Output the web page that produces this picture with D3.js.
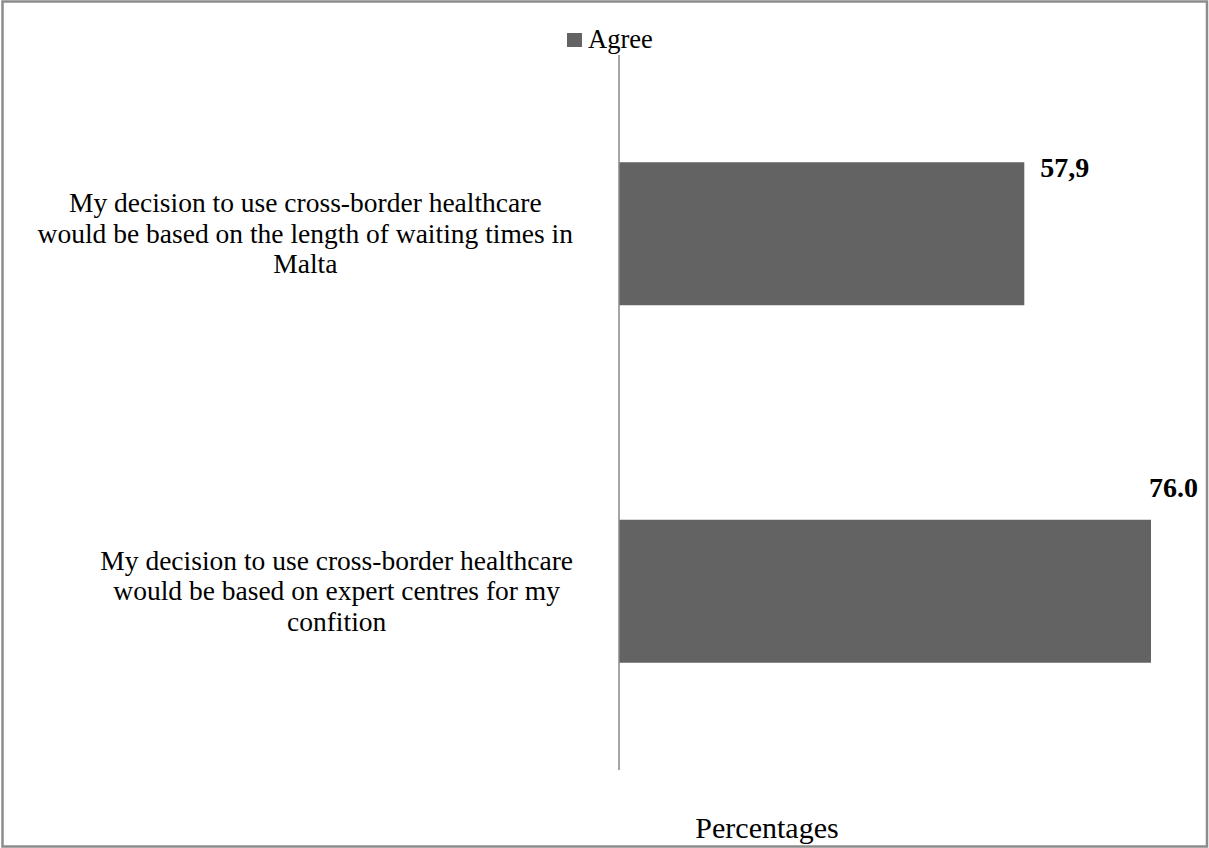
<!DOCTYPE html>
<html>
<head>
<meta charset="utf-8">
<script src="https://cdn.jsdelivr.net/npm/d3@7"></script>
<style>
  html, body { margin: 0; padding: 0; background: #fff; }
  svg { display: block; }
  text { font-family: "Liberation Serif", "DejaVu Serif", serif; fill: #000; }
</style>
</head>
<body>
<svg id="chart" width="1209" height="848"></svg>
<script>
// Survey statements (each wrapped into lines as drawn)
const categories = [
  ["My decision to use cross-border healthcare", "would be based on the length of waiting times in", "Malta"],
  ["My decision to use cross-border healthcare", "would be based on expert centres for my", "confition"]
];
const agreeValues = [57.9, 76.0];
const valueLabels = ["57,9", "76.0"];
const seriesName = "Agree";
const axisTitle = "Percentages";

const W = 1209, H = 848;
const svg = d3.select("#chart");
const barColor = "#636363";
const frameColor = "#8c8c8c";

// outer frame
svg.append("rect")
  .attr("x", 2.5).attr("y", 1.5)
  .attr("width", W - 4.5).attr("height", H - 3)
  .attr("fill", "none").attr("stroke", frameColor).attr("stroke-width", 2.5);

const plot = { left: 619, top: 55, bottom: 770 };

const x = d3.scaleLinear().domain([0, 80]).range([plot.left, plot.left + 560]);
const y = d3.scaleBand()
  .domain(d3.range(categories.length))
  .range([plot.top, plot.bottom])
  .paddingInner(0.6).paddingOuter(0.3);

// bars
svg.selectAll("rect.bar")
  .data(agreeValues)
  .join("rect")
  .attr("class", "bar")
  .attr("x", x(0))
  .attr("y", (d, i) => y(i))
  .attr("width", d => x(d) - x(0))
  .attr("height", y.bandwidth())
  .attr("fill", barColor);

// vertical category axis line
svg.append("line")
  .attr("x1", x(0)).attr("x2", x(0))
  .attr("y1", plot.top).attr("y2", plot.bottom)
  .attr("stroke", "#888").attr("stroke-width", 1.5);

// category labels, centred text block right-aligned to the gutter
const labelFont = 27.5;
const lineGap = 30.5;
const labelRight = 573;
categories.forEach((lines, i) => {
  const g = svg.append("g");
  const cy = y(i) + y.bandwidth() / 2;
  const t = g.append("text")
    .attr("text-anchor", "middle")
    .style("font-size", labelFont + "px");
  lines.forEach((ln, k) => {
    t.append("tspan")
      .attr("x", 0)
      .attr("y", cy + 9 + (k - (lines.length - 1) / 2) * lineGap)
      .text(ln);
  });
  const maxW = d3.max(t.selectAll("tspan").nodes(), n => n.getComputedTextLength());
  t.selectAll("tspan").attr("x", labelRight - maxW / 2);
});

// value labels
const labelOffsets = [{ dx: 16, dy: 15, anchor: "start" }, { dx: 47, dy: -23, anchor: "end" }];
svg.selectAll("text.value")
  .data(agreeValues)
  .join("text")
  .attr("class", "value")
  .attr("x", (d, i) => x(d) + labelOffsets[i].dx)
  .attr("y", (d, i) => y(i) + labelOffsets[i].dy)
  .attr("text-anchor", (d, i) => labelOffsets[i].anchor)
  .style("font-size", "28px")
  .style("font-weight", "bold")
  .text((d, i) => valueLabels[i]);

// legend
const legend = svg.append("g").attr("transform", "translate(567,33)");
legend.append("rect").attr("width", 15).attr("height", 14).attr("fill", barColor);
legend.append("text").attr("x", 21).attr("y", 15)
  .style("font-size", "26.5px").text(seriesName);

// axis title
svg.append("text")
  .attr("x", 767).attr("y", 838)
  .attr("text-anchor", "middle")
  .style("font-size", "30px")
  .text(axisTitle);
</script>
</body>
</html>
